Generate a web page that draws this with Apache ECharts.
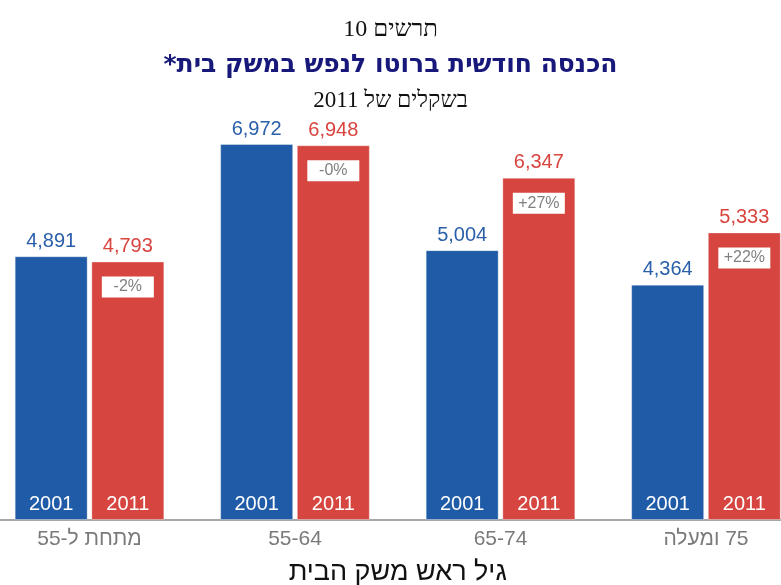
<!DOCTYPE html>
<html>
<head>
<meta charset="utf-8">
<script src="https://cdn.jsdelivr.net/npm/echarts@6/dist/echarts.min.js"></script>
<style>
html,body{margin:0;padding:0;background:#fff;}
#c{width:781px;height:585px;}
</style>
</head>
<body>
<div id="c"></div>
<script>
var RLE = '\u202B', PDF = '\u202C';
var categories = [RLE + 'מתחת ל-55' + PDF, '55-64', '65-74', RLE + '75 ומעלה' + PDF];
var years = ['2001', '2011'];
var values2001 = [4891, 6972, 5004, 4364];
var values2011 = [4793, 6948, 6347, 5333];
var pctLabels = ['-2%', '-0%', '+27%', '+22%'];
var zeros = [0, 0, 0, 0];

var blue = '#1f5ba6', red = '#d6453f';
var fmt = function (v) { return v.toLocaleString('en-US'); };
var sans = 'Liberation Sans, Arial, sans-serif';
var serif = 'Liberation Serif, DejaVu Serif, serif';

var chart = echarts.init(document.getElementById('c'));
chart.setOption({
  animation: false,
  backgroundColor: '#fff',
  title: [
    { text: RLE + 'תרשים 10' + PDF, left: 'center', top: 13,
      textStyle: { fontFamily: serif, fontSize: 24, fontWeight: 'normal', color: '#111' } },
    { text: RLE + 'הכנסה חודשית ברוטו לנפש במשק בית*' + PDF, left: 'center', top: 48,
      textStyle: { fontFamily: 'DejaVu Sans, sans-serif', fontSize: 25, fontWeight: 'bold', color: '#17187a' } },
    { text: RLE + 'בשקלים של 2011' + PDF, left: 'center', top: 84,
      textStyle: { fontFamily: serif, fontSize: 23, fontWeight: 'normal', color: '#111' } }
  ],
  grid: { left: -13.25, right: -27.75, top: 142.5, bottom: 65, containLabel: false, outerBoundsMode: 'none' },
  xAxis: {
    type: 'category',
    data: categories,
    axisLine: { show: true, lineStyle: { color: '#8a8a8a', width: 1.5 } },
    axisTick: { show: false },
    axisLabel: { interval: 0, margin: 9, fontFamily: sans, fontSize: 21, color: '#7a7a7a' },
    name: RLE + 'גיל ראש משק הבית' + PDF,
    nameLocation: 'middle',
    nameGap: 39,
    nameTextStyle: { fontFamily: sans, fontSize: 27, color: '#111' }
  },
  yAxis: { type: 'value', min: 0, max: 7000, show: false, splitLine: { show: false } },
  series: [
    {
      name: years[0], type: 'bar', stack: 'a', data: values2001,
      barWidth: 73, barGap: '5%',
      itemStyle: { color: blue, borderColor: 'rgba(255,255,255,0.35)', borderWidth: 1 },
      label: { show: true, position: 'insideBottom', distance: 6, formatter: function () { return years[0]; },
        fontFamily: sans, fontSize: 20, color: '#fff' }
    },
    {
      name: years[1], type: 'bar', stack: 'b', data: values2011,
      barWidth: 73, barGap: '5%',
      itemStyle: { color: red, borderColor: 'rgba(255,255,255,0.35)', borderWidth: 1 },
      label: { show: true, position: 'insideBottom', distance: 6, formatter: function () { return years[1]; },
        fontFamily: sans, fontSize: 20, color: '#fff' }
    },
    {
      name: 'v2001', type: 'bar', stack: 'a', data: zeros,
      barWidth: 73, barGap: '5%',
      itemStyle: { color: 'rgba(0,0,0,0)', borderWidth: 0 },
      label: { show: true, position: 'top', distance: 5,
        formatter: function (p) { return fmt(values2001[p.dataIndex]); },
        fontFamily: sans, fontSize: 20, color: '#2a5faa' }
    },
    {
      name: 'v2011', type: 'bar', stack: 'b', data: zeros,
      barWidth: 73, barGap: '5%',
      itemStyle: { color: 'rgba(0,0,0,0)', borderWidth: 0 },
      label: { show: true, position: 'top', distance: 5,
        formatter: function (p) { return fmt(values2011[p.dataIndex]); },
        fontFamily: sans, fontSize: 20, color: '#d9443f' }
    },
    {
      name: 'pct', type: 'bar', stack: 'b', data: zeros,
      barWidth: 73, barGap: '5%',
      itemStyle: { color: 'rgba(0,0,0,0)', borderWidth: 0 },
      label: { show: true, position: 'bottom', distance: 15,
        formatter: function (p) { return pctLabels[p.dataIndex]; },
        fontFamily: sans, fontSize: 16, color: '#808080',
        backgroundColor: '#fff', width: 52, height: 21, lineHeight: 21, align: 'center' }
    }
  ]
});
</script>
</body>
</html>
